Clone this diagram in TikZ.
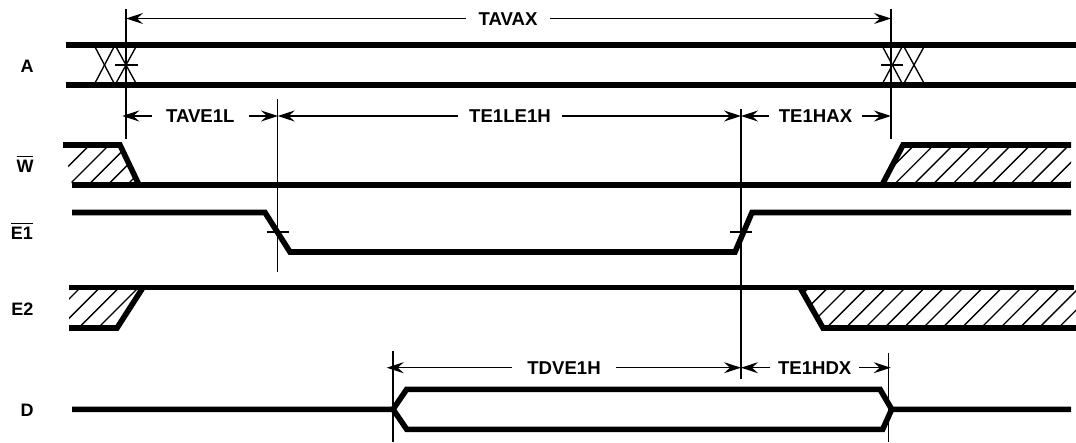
\documentclass[tikz,border=0pt]{standalone}
\usepackage{fontspec}
\setmainfont{Liberation Sans}
\usetikzlibrary{arrows.meta}
\newcommand\ovl[1]{\vbox{\hrule height 1.3pt\kern 2.4pt\hbox{#1}}}
\tikzset{
  sig/.style={line width=5.6pt,line join=miter},
  thin line/.style={line width=1.35pt},
  vert/.style={line width=1.4pt},
  hatchline/.style={line width=1.35pt},
  dim/.style={line width=1.25pt,-{Stealth[length=17pt,width=11pt,inset=6pt]}},
  lab/.style={font=\fontsize{18.6}{20}\selectfont\bfseries,inner ysep=0pt,inner xsep=#1,anchor=base},
  lab/.default=0pt,
  siglab/.style={font=\fontsize{18}{20}\selectfont\bfseries,inner sep=0pt,anchor=base}
}
\newcommand\hatchfrom[2]{% base x, base y
  \foreach \k in {-4,...,12} {
    \pgfmathsetmacro\hx{#1+19.33*\k}
    \draw[hatchline] (\hx-60,#2+60) -- (\hx+60,#2-60);
  }}
\begin{document}
\begin{tikzpicture}[x=1pt,y=-1pt]
\useasboundingbox (0,0) rectangle (1076,442);
% named end points of the dimension lines
\coordinate (v1t) at (126,9);   \coordinate (v1b) at (126,139);
\coordinate (v2t) at (891,9);   \coordinate (v2b) at (891,139);
\coordinate (v3t) at (277.7,99);\coordinate (v3b) at (277.7,272);
\coordinate (v4t) at (741,109); \coordinate (v4b) at (741,379);
\coordinate (v5t) at (393,351); \coordinate (v5b) at (393,442);
\coordinate (v6t) at (888.7,353);\coordinate (v6b) at (888.7,442);
\foreach \a/\b in {v1t/v1b,v2t/v2b,v3t/v3b,v4t/v4b,v5t/v5b,v6t/v6b} \draw[vert] (\a) -- (\b);
% signal labels
\node[siglab] (sA) at (27,72.5) {A};
\node[siglab] (sW) at (25,172) {\ovl{W}};
\node[siglab] (sE1) at (22,239) {\ovl{E1}};
\node[siglab] (sE2) at (22.5,315) {E2};
\node[siglab] (sD) at (27,416) {D};
% address crossings
\foreach \xa/\xb in {94/115,115/137,881.7/903,903/925} {
  \draw[thin line] (\xa,45) -- (\xb,85);
  \draw[thin line] (\xb,45) -- (\xa,85);
}
\draw[thin line] (115,65) -- (137.5,65);
\draw[thin line] (881,65) -- (903,65);
% hatching
\begin{scope}
  \clip (64,145) -- (120,145) -- (139,185) -- (72,185) -- cycle;
  \hatchfrom{129.3}{182.7}
\end{scope}
\begin{scope}
  \clip (882,185) -- (903,145) -- (1071,145) -- (1071,185) -- cycle;
  \hatchfrom{876.7}{182.7}
\end{scope}
\begin{scope}
  \clip (69,287.5) -- (143,287.5) -- (117,328) -- (69,328) -- cycle;
  \hatchfrom{101}{325}
\end{scope}
\begin{scope}
  \clip (800,287.5) -- (1076,287.5) -- (1076,328) -- (823,328) -- cycle;
  \hatchfrom{829.3}{325}
\end{scope}
% signals
\draw[sig] (66,45) -- (1076,45);
\draw[sig] (66,85) -- (1076,85);
\draw[sig] (63,145) -- (120,145) -- (139,185);
\draw[sig] (72,185) -- (1071,185);
\draw[sig] (882,185) -- (903,145) -- (1071,145);
\draw[sig] (72,212.5) -- (265,212.5) -- (290,252) -- (735,252) -- (752,212.5) -- (1071,212.5);
\draw[thin line] (267,232) -- (289,232);
\draw[thin line] (730,232) -- (752,232);
\draw[sig,line width=5pt] (68.5,287.5) -- (1074,287.5);
\draw[sig] (69,328) -- (117,328) -- (143,287.5);
\draw[sig] (800,287.5) -- (823,328) -- (1076,328);
\draw[sig] (72,409.3) -- (393,409.3) -- (406.7,389.3) -- (880,389.3) -- (891.7,409.3) -- (1071,409.3);
\draw[sig] (393,409.3) -- (406.7,429.3) -- (882.7,429.3) -- (891.7,409.3);
% dimension labels and arrows
\coordinate (a1l) at (126,18.5);  \coordinate (a1r) at (891,18.5);
\node[lab=12pt] (tavax) at (508,25) {TAVAX};
\draw[dim] (tavax.west |- a1l) -- (a1l);
\draw[dim] (tavax.east |- a1r) -- (a1r);
\coordinate (a2a) at (122.3,116); \coordinate (a2b) at (278,116);
\node[lab=14pt] (tave) at (200.3,122.7) {TAVE1L};
\draw[dim] (tave.west |- a2a) -- (a2a);
\draw[dim] (tave.east |- a2b) -- (a2b);
\coordinate (a2c) at (277.7,116); \coordinate (a2d) at (741,116);
\node[lab=11pt] (tele) at (510,122.7) {TE1LE1H};
\draw[dim] (tele.west |- a2c) -- (a2c);
\draw[dim] (tele.east |- a2d) -- (a2d);
\coordinate (a2e) at (741,116); \coordinate (a2f) at (891,116);
\node[lab=9.5pt] (teha) at (815.5,122.7) {TE1HAX};
\draw[dim] (teha.west |- a2e) -- (a2e);
\draw[dim] (teha.east |- a2f) -- (a2f);
\coordinate (a3a) at (386.7,367.7); \coordinate (a3b) at (741,367.7);
\node[lab=15pt] (tdve) at (564,374.3) {TDVE1H};
\draw[dim] (tdve.west |- a3a) -- (a3a);
\draw[dim] (tdve.east |- a3b) -- (a3b);
\coordinate (a3c) at (741,367.7); \coordinate (a3d) at (890.7,367.7);
\node[lab=7.5pt] (tehd) at (814.7,374.3) {TE1HDX};
\draw[dim] (tehd.west |- a3c) -- (a3c);
\draw[dim] (tehd.east |- a3d) -- (a3d);
\end{tikzpicture}
\end{document}
